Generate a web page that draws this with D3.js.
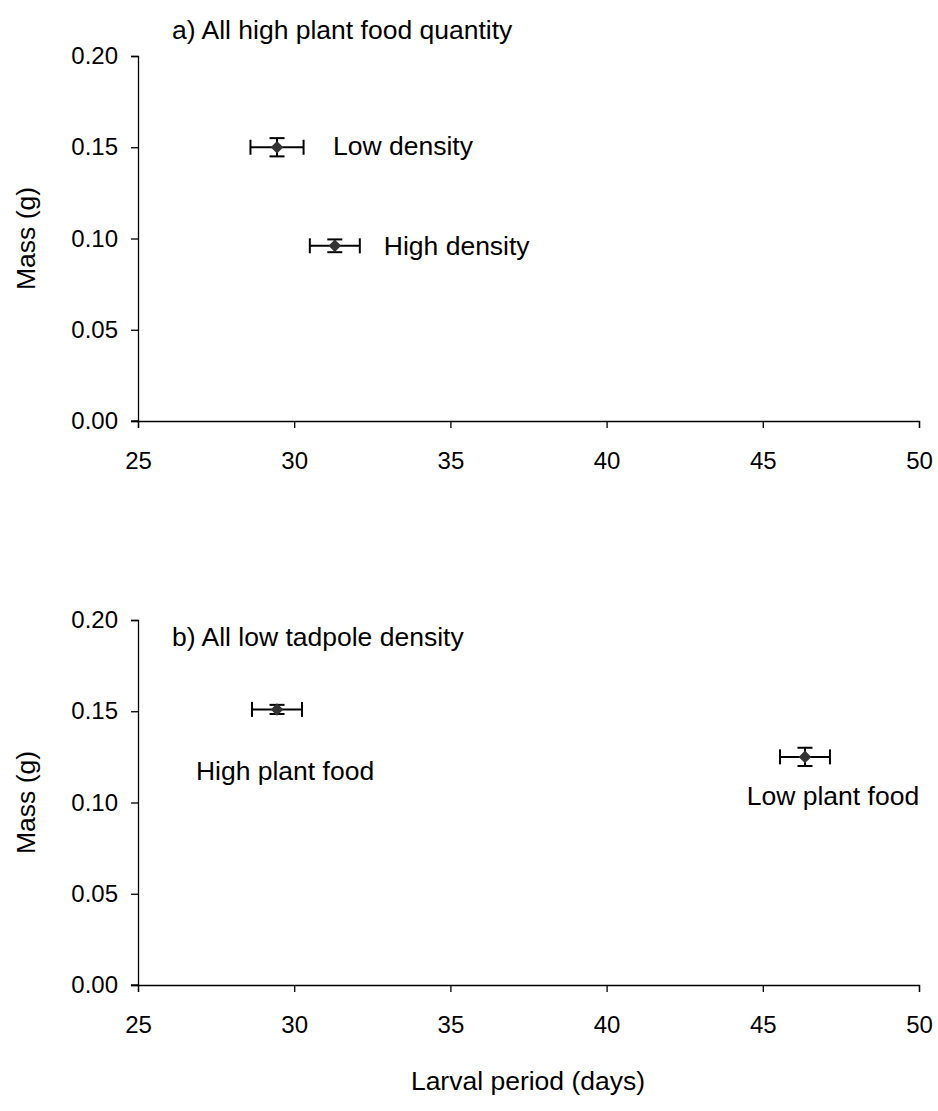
<!DOCTYPE html>
<html>
<head>
<meta charset="utf-8">
<script src="https://cdn.jsdelivr.net/npm/d3@7"></script>
<style>
  body { margin: 0; background: #fff; }
  text { font-family: "Liberation Sans", Arial, sans-serif; fill: #000; }
</style>
</head>
<body>
<div class="canvas"></div>
<script>
// data
const panelTitles = ['a) All high plant food quantity', 'b) All low tadpole density'];
const pointLabels = [['Low density', 'High density'], ['High plant food', 'Low plant food']];
const larvalMean = [[29.45, 31.3], [29.45, 46.35]];
const larvalErr = [[0.85, 0.8], [0.8, 0.8]];
const massMean = [[0.150, 0.096], [0.151, 0.125]];
const massErr = [[0.005, 0.0035], [0.0025, 0.005]];
const xTicks = [25, 30, 35, 40, 45, 50];
const yTicks = [0, 0.05, 0.10, 0.15, 0.20];

// layout
const W = 938, H = 1111;
const plot = { left: 138, right: 919, height: 365 };
const panelTop = [56, 620];
const titleY = [39, 646];
// label offsets relative to the point (px) and anchor
const labelPos = [
  [{ dx: 56, dy: 8, anchor: 'start' }, { dx: 49, dy: 9, anchor: 'start' }],
  [{ dx: 8, dy: 71, anchor: 'middle' }, { dx: 28, dy: 48, anchor: 'middle' }]
];

const svg = d3.select('.canvas').append('svg')
  .attr('width', W).attr('height', H);

const x = d3.scaleLinear().domain([25, 50]).range([plot.left, plot.right]);

panelTitles.forEach((title, p) => {
  const top = panelTop[p];
  const y = d3.scaleLinear().domain([0, 0.2]).range([top + plot.height, top]);
  const g = svg.append('g');

  // axes
  const xAxis = g.append('g')
    .attr('transform', `translate(0, ${top + plot.height})`)
    .call(d3.axisBottom(x).tickValues(xTicks).tickSize(7).tickPadding(24).tickFormat(d3.format('d')));
  const yAxis = g.append('g')
    .attr('transform', `translate(${plot.left}, 0)`)
    .call(d3.axisLeft(y).tickValues(yTicks).tickSize(7).tickPadding(13).tickFormat(d3.format('.2f')));
  [xAxis, yAxis].forEach(a => {
    a.attr('font-family', null).attr('font-size', null);
    a.select('.domain').attr('stroke', '#000').attr('stroke-width', 1.3);
    a.selectAll('.tick line').attr('stroke', '#000').attr('stroke-width', 1.3);
    a.selectAll('text').style('font-size', '24px').attr('fill', '#000');
  });
  // extend x domain line a bit left of the y axis like the original
  g.append('line')
    .attr('x1', plot.left - 7).attr('x2', plot.left)
    .attr('y1', y(0)).attr('y2', y(0))
    .attr('stroke', '#000').attr('stroke-width', 1.3);

  // title
  g.append('text')
    .attr('x', 172).attr('y', titleY[p])
    .style('font-size', '26.5px')
    .text(title);

  // y axis title
  g.append('text')
    .attr('transform', `translate(35, ${top + plot.height / 2}) rotate(-90)`)
    .attr('text-anchor', 'middle')
    .style('font-size', '26.5px')
    .text('Mass (g)');

  const pts = larvalMean[p].map((v, i) => ({
    x: v, xe: larvalErr[p][i], y: massMean[p][i], ye: massErr[p][i], label: pointLabels[p][i], pos: labelPos[p][i]
  }));

  const cap = 7.5;
  const pg = g.selectAll('g.pt').data(pts).enter().append('g').attr('class', 'pt');
  // horizontal error bars
  pg.append('line')
    .attr('x1', d => x(d.x - d.xe)).attr('x2', d => x(d.x + d.xe))
    .attr('y1', d => y(d.y)).attr('y2', d => y(d.y));
  pg.append('line')
    .attr('x1', d => x(d.x - d.xe)).attr('x2', d => x(d.x - d.xe))
    .attr('y1', d => y(d.y) - cap).attr('y2', d => y(d.y) + cap);
  pg.append('line')
    .attr('x1', d => x(d.x + d.xe)).attr('x2', d => x(d.x + d.xe))
    .attr('y1', d => y(d.y) - cap).attr('y2', d => y(d.y) + cap);
  // vertical error bars
  pg.append('line')
    .attr('x1', d => x(d.x)).attr('x2', d => x(d.x))
    .attr('y1', d => y(d.y - d.ye)).attr('y2', d => y(d.y + d.ye));
  pg.append('line')
    .attr('x1', d => x(d.x) - cap).attr('x2', d => x(d.x) + cap)
    .attr('y1', d => y(d.y - d.ye)).attr('y2', d => y(d.y - d.ye));
  pg.append('line')
    .attr('x1', d => x(d.x) - cap).attr('x2', d => x(d.x) + cap)
    .attr('y1', d => y(d.y + d.ye)).attr('y2', d => y(d.y + d.ye));
  pg.selectAll('line').attr('stroke', '#000').attr('stroke-width', 2);

  // diamond marker
  pg.append('path')
    .attr('d', d3.symbol().type(d3.symbolDiamond2).size(100))
    .attr('transform', d => `translate(${x(d.x)}, ${y(d.y)})`)
    .attr('fill', '#333');

  pg.append('text')
    .attr('x', d => x(d.x) + d.pos.dx)
    .attr('y', d => y(d.y) + d.pos.dy)
    .attr('text-anchor', d => d.pos.anchor)
    .style('font-size', '26.5px')
    .text(d => d.label);
});

// x axis title
svg.append('text')
  .attr('x', 528).attr('y', 1090)
  .attr('text-anchor', 'middle')
  .style('font-size', '26.5px')
  .text('Larval period (days)');
</script>
</body>
</html>
